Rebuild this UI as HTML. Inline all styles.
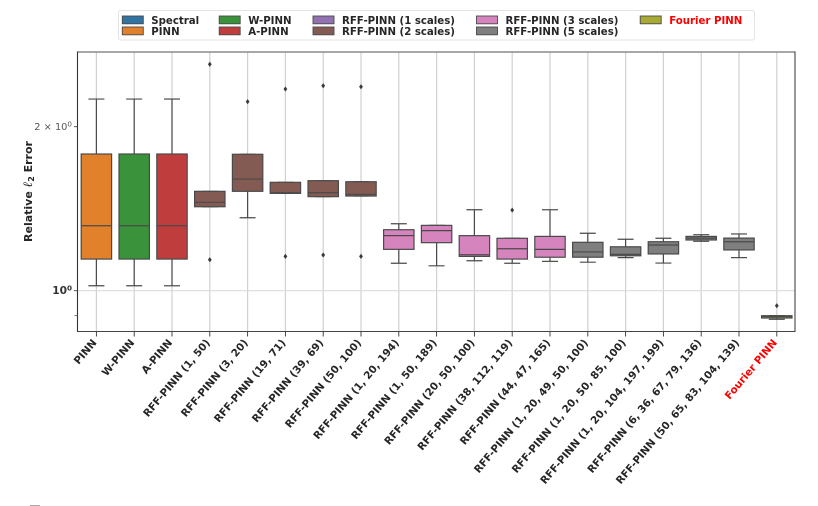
<!DOCTYPE html>
<html lang="en">
<head>
<meta charset="utf-8">
<title>Relative L2 Error Box Plot</title>
<style>
html,body{margin:0;padding:0;background:#fff;}
#chart{display:block;width:818px;height:506px;filter:blur(0.3px);}
text{font-family:"DejaVu Sans","Liberation Sans",sans-serif;}
</style>
</head>
<body>
<svg id="chart" xmlns="http://www.w3.org/2000/svg" width="818" height="506" viewBox="0 0 818 506">
<rect x="30" y="505" width="10" height="1" fill="#aaa"/>
<g id="grid"></g>
<g id="boxes"></g>
<g id="axes"></g>
<text x="32" y="191.5" transform="rotate(-90 32 191.5)" text-anchor="middle" font-size="11" font-weight="bold" fill="#262626">Relative <tspan font-family="Liberation Serif" font-style="italic" font-size="13">ℓ</tspan><tspan font-size="8" dy="2">2</tspan><tspan dy="-2"> Error</tspan></text>
<g id="legend"></g>
</svg>
<script>
var categories = ["PINN","W-PINN","A-PINN","RFF-PINN (1, 50)","RFF-PINN (3, 20)","RFF-PINN (19, 71)","RFF-PINN (39, 69)","RFF-PINN (50, 100)","RFF-PINN (1, 20, 194)","RFF-PINN (1, 50, 189)","RFF-PINN (20, 50, 100)","RFF-PINN (38, 112, 119)","RFF-PINN (44, 47, 165)","RFF-PINN (1, 20, 49, 50, 100)","RFF-PINN (1, 20, 50, 85, 100)","RFF-PINN (1, 20, 104, 197, 199)","RFF-PINN (6, 36, 67, 79, 136)","RFF-PINN (50, 65, 83, 104, 139)","Fourier PINN"];
var groups = ["PINN","W-PINN","A-PINN","RFF2","RFF2","RFF2","RFF2","RFF2","RFF3","RFF3","RFF3","RFF3","RFF3","RFF5","RFF5","RFF5","RFF5","RFF5","Fourier"];
var whiskerHigh = [2.248,2.248,2.248,1.522,1.780,1.581,1.592,1.585,1.327,1.318,1.408,1.248,1.408,1.275,1.243,1.248,1.267,1.271,0.8997];
var q3Values = [1.782,1.782,1.782,1.522,1.780,1.581,1.592,1.585,1.294,1.318,1.262,1.248,1.258,1.227,1.204,1.230,1.258,1.249,0.8997];
var medians = [1.316,1.316,1.316,1.453,1.603,1.513,1.513,1.503,1.262,1.289,1.164,1.194,1.191,1.178,1.166,1.213,1.249,1.230,0.8959];
var q1Values = [1.143,1.143,1.143,1.426,1.522,1.509,1.488,1.492,1.191,1.225,1.156,1.143,1.152,1.152,1.159,1.168,1.239,1.188,0.891];
var whiskerLow = [1.021,1.021,1.021,1.426,1.361,1.509,1.488,1.492,1.123,1.111,1.135,1.123,1.132,1.128,1.150,1.124,1.232,1.150,0.8861];
var fliers = [[],[],[],[2.604,1.140],[2.223],[2.345,1.156],[2.378,1.163],[2.368,1.156],[],[],[],[1.406],[],[],[],[],[],[],[0.9386]];
var legendLabels = ["Spectral","PINN","W-PINN","A-PINN","RFF-PINN (1 scales)","RFF-PINN (2 scales)","RFF-PINN (3 scales)","RFF-PINN (5 scales)","Fourier PINN"];
var legendKeys = ["Spectral","PINN","W-PINN","A-PINN","RFF1","RFF2","RFF3","RFF5","Fourier"];
var yMajorTicks = [1, 2];
var yMajorLabels = ["10", "2 × 10"];
var yMinorTicks = [0.9];

var groupColors = {Spectral:"#3274a1",PINN:"#e1812c","W-PINN":"#3a923a","A-PINN":"#c03d3e",RFF1:"#9372b2",RFF2:"#845b53",RFF3:"#d684bd",RFF5:"#7f7f7f",Fourier:"#a9aa35"};
var NS = "http://www.w3.org/2000/svg";
var plotLeft = 77.5, plotRight = 795, plotTop = 52, plotBottom = 331.5;
function xScale(i){ return 96.4 + 37.8 * i; }
function yScale(v){ return 290.7 - 544.8 * Math.log10(v); }
function make(parent, tag, attrs, name){
  var el = document.createElementNS(NS, tag);
  for (var k in attrs) el.setAttribute(k, attrs[k]);
  
  
  parent.appendChild(el);
  return el;
}
var grid = document.getElementById('grid');
var boxes = document.getElementById('boxes');
var axes = document.getElementById('axes');
var legend = document.getElementById('legend');

categories.forEach(function(c, i){
  make(grid, 'line', {x1:xScale(i), x2:xScale(i), y1:plotTop, y2:plotBottom, stroke:'#d0d0d0', 'stroke-width':1.2}, 'vertical-grid-line');
});
make(grid, 'line', {x1:plotLeft, x2:plotRight, y1:yScale(1), y2:yScale(1), stroke:'#dcdcdc', 'stroke-width':1.2}, 'horizontal-grid-line');

categories.forEach(function(c, i){
  var x = xScale(i), hw = 15.2, cap = 8;
  var g = make(boxes, 'g', {}, 'box-' + c.toLowerCase().replace(/[^a-z0-9]+/g, '-').replace(/-$/, ''));
  var ec = '#4a4a4a';
  make(g, 'line', {x1:x, x2:x, y1:yScale(whiskerHigh[i]), y2:yScale(q3Values[i]), stroke:ec, 'stroke-width':1.2}, 'upper-whisker');
  make(g, 'line', {x1:x, x2:x, y1:yScale(q1Values[i]), y2:yScale(whiskerLow[i]), stroke:ec, 'stroke-width':1.2}, 'lower-whisker');
  make(g, 'line', {x1:x-cap, x2:x+cap, y1:yScale(whiskerHigh[i]), y2:yScale(whiskerHigh[i]), stroke:ec, 'stroke-width':1.2}, 'upper-cap');
  make(g, 'line', {x1:x-cap, x2:x+cap, y1:yScale(whiskerLow[i]), y2:yScale(whiskerLow[i]), stroke:ec, 'stroke-width':1.2}, 'lower-cap');
  make(g, 'rect', {x:x-hw, y:yScale(q3Values[i]), width:hw*2, height:yScale(q1Values[i])-yScale(q3Values[i]), fill:groupColors[groups[i]], stroke:ec, 'stroke-width':1.2}, 'box-body');
  make(g, 'line', {x1:x-hw, x2:x+hw, y1:yScale(medians[i]), y2:yScale(medians[i]), stroke:ec, 'stroke-width':1.2}, 'median-line');
  fliers[i].forEach(function(v){
    var y = yScale(v);
    make(g, 'path', {d:'M'+x+' '+(y-2.6)+'L'+(x+1.9)+' '+y+'L'+x+' '+(y+2.6)+'L'+(x-1.9)+' '+y+'Z', fill:'#3a3a3a'}, 'outlier');
  });
  make(axes, 'line', {x1:x, x2:x, y1:plotBottom, y2:plotBottom+5, stroke:'#333', 'stroke-width':0.9}, 'x-tick');
  var lx = x - 1.5, ly = 341;
  var t = make(axes, 'text', {x:lx, y:ly, transform:'rotate(-50 '+lx+' '+ly+')', 'text-anchor':'end', 'dominant-baseline':'middle', 'font-size':10.4, 'font-weight':'bold', fill:c === 'Fourier PINN' ? '#ff0000' : '#262626'}, 'x-tick-label');
  t.textContent = c;
});

make(axes, 'line', {x1:plotLeft, x2:plotRight, y1:plotTop, y2:plotTop, stroke:'#8a8a8a', 'stroke-width':1.4}, 'top-spine');
make(axes, 'line', {x1:plotLeft, x2:plotLeft, y1:plotTop-0.5, y2:plotBottom+0.5, stroke:'#333', 'stroke-width':1.1}, 'left-spine');
make(axes, 'line', {x1:plotRight, x2:plotRight, y1:plotTop-0.5, y2:plotBottom+0.5, stroke:'#444', 'stroke-width':1.1}, 'right-spine');
make(axes, 'line', {x1:plotLeft, x2:plotRight, y1:plotBottom, y2:plotBottom, stroke:'#444', 'stroke-width':1.1}, 'bottom-spine');

yMajorTicks.forEach(function(v, i){
  var y = yScale(v);
  make(axes, 'line', {x1:plotLeft-3.5, x2:plotLeft, y1:y, y2:y, stroke:'#444', 'stroke-width':0.9}, 'y-tick');
  var bold = v === 1;
  var t = make(axes, 'text', {x:72, y:y+3.5, 'text-anchor':'end', 'font-size':bold ? 10.6 : 9.8, 'font-weight':bold ? 'bold' : 'normal', fill:bold ? '#333' : '#555'}, 'y-tick-label');
  t.textContent = yMajorLabels[i];
  var s = document.createElementNS(NS, 'tspan');
  s.setAttribute('font-size', '7.2');
  s.setAttribute('dy', '-3.5');
  s.textContent = '0';
  t.appendChild(s);
});
yMinorTicks.forEach(function(v){
  var y = yScale(v);
  make(axes, 'line', {x1:plotLeft-3, x2:plotLeft, y1:y, y2:y, stroke:'#555', 'stroke-width':0.8}, 'y-minor-tick');
});

make(legend, 'rect', {x:118.5, y:10.5, width:636, height:29.5, rx:2, fill:'#fff', stroke:'#e4e4e4', 'stroke-width':1}, 'legend-frame');
var legendCols = [122.3, 219.2, 313, 476.5, 640.2];
legendLabels.forEach(function(label, i){
  var col = Math.floor(i / 2), row = i % 2;
  var hx = legendCols[col], hy = row === 0 ? 16 : 27;
  var isFourier = label === 'Fourier PINN';
  make(legend, 'rect', {x:hx, y:hy, width:21, height:7.8, fill:groupColors[legendKeys[i]], stroke:'#4a4a4a', 'stroke-width':0.9}, 'legend-swatch');
  var t = make(legend, 'text', {x:hx+29, y:hy+8, 'font-size':10.2, 'font-weight':'bold', fill:isFourier ? '#ff0000' : '#262626'}, 'legend-entry');
  t.textContent = label;
});
</script>
</body>
</html>
